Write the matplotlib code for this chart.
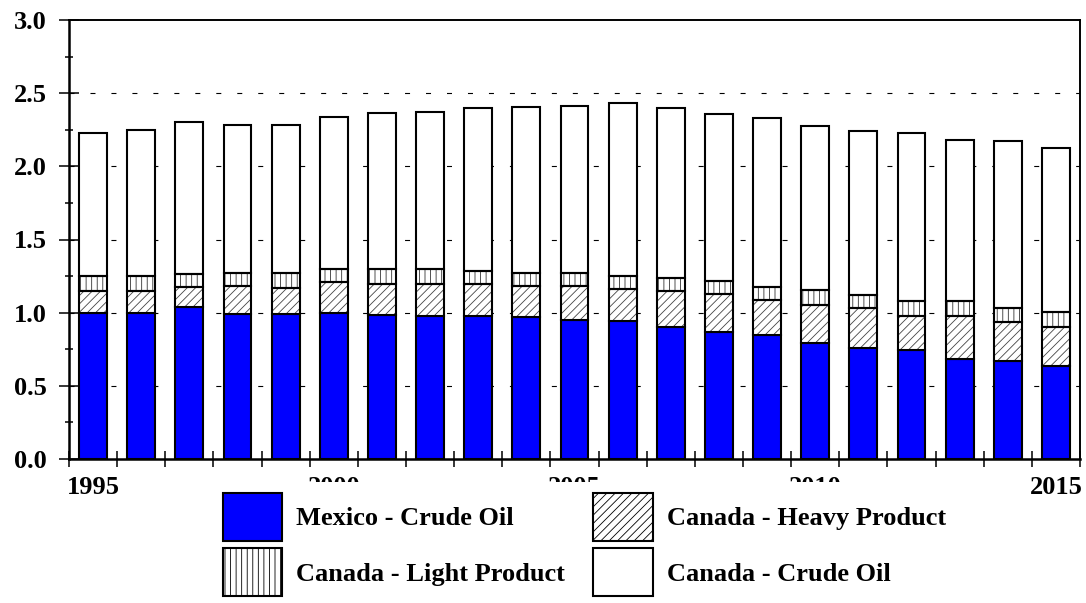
import matplotlib
matplotlib.use("Agg")
import matplotlib.pyplot as plt
from matplotlib.patches import Patch
import numpy as np

years = list(range(1995, 2016))
mexico_crude = [1.00, 1.00, 1.037, 0.989, 0.989, 1.00, 0.986, 0.98, 0.98, 0.97, 0.952,
                0.941, 0.904, 0.866, 0.847, 0.795, 0.756, 0.743, 0.683, 0.670, 0.636]
top_heavy = [1.15, 1.15, 1.173, 1.185, 1.171, 1.21, 1.198, 1.198, 1.198, 1.185, 1.182,
             1.164, 1.15, 1.125, 1.089, 1.052, 1.03, 0.979, 0.979, 0.938, 0.902]
top_light = [1.253, 1.25, 1.264, 1.273, 1.273, 1.30, 1.30, 1.30, 1.285, 1.271, 1.271,
             1.25, 1.235, 1.214, 1.173, 1.155, 1.119, 1.080, 1.082, 1.03, 1.005]
totals = [2.225, 2.25, 2.30, 2.285, 2.285, 2.34, 2.362, 2.374, 2.40, 2.405, 2.41,
          2.43, 2.397, 2.36, 2.333, 2.278, 2.242, 2.228, 2.18, 2.171, 2.123]
canada_heavy = [h - m for h, m in zip(top_heavy, mexico_crude)]
canada_light = [l - h for l, h in zip(top_light, top_heavy)]
canada_crude = [t - l for t, l in zip(totals, top_light)]
x_labels = ["1995", "2000", "2005", "2010", "2015"]
legend_labels = ["Mexico - Crude Oil", "Canada - Heavy Product",
                 "Canada - Light Product", "Canada - Crude Oil"]

plt.rcParams['font.family'] = ['Liberation Serif', 'DejaVu Serif']
plt.rcParams['font.weight'] = 'bold'
plt.rcParams['hatch.linewidth'] = 0.6
plt.rcParams['lines.scale_dashes'] = False

fig = plt.figure(figsize=(10.86, 6.03), dpi=100)
ax = fig.add_axes([69/1086, 1 - 459/603, (1080 - 69)/1086, (459 - 20)/603])

x = np.arange(len(years))
w = 0.58
lw = 1.5
ax.bar(x, mexico_crude, w, color='#0000ff', edgecolor='black', linewidth=lw, zorder=3)
b1 = np.array(mexico_crude)
ax.bar(x, canada_heavy, w, bottom=b1, color='white', edgecolor='#444444', hatch='////',
       linewidth=0, zorder=3)
ax.bar(x, canada_heavy, w, bottom=b1, fill=False, edgecolor='black', linewidth=lw, zorder=4)
b2 = b1 + np.array(canada_heavy)
ax.bar(x, canada_light, w, bottom=b2, color='white', edgecolor='#333333', hatch='|||',
       linewidth=0, zorder=3)
ax.bar(x, canada_light, w, bottom=b2, fill=False, edgecolor='black', linewidth=lw, zorder=4)
b3 = b2 + np.array(canada_light)
ax.bar(x, canada_crude, w, bottom=b3, color='white', edgecolor='black', linewidth=lw, zorder=3)

ax.set_xlim(-0.5, len(years) - 0.5)
ax.set_ylim(0, 3.0)

ax.set_yticks(np.arange(0, 3.01, 0.5))
ax.set_yticklabels([f"{v:.1f}" for v in np.arange(0, 3.01, 0.5)])
ax.set_yticks(np.arange(0.25, 3.0, 0.5), minor=True)
ax.tick_params(axis='y', which='major', direction='inout', length=14, width=1.1,
               labelsize=19, pad=9)
ax.tick_params(axis='y', which='minor', direction='inout', length=6, width=1.1)

label_pos = [years.index(int(s)) for s in x_labels]
ax.set_xticks(label_pos)
ax.set_xticklabels(x_labels)
ax.set_xticks(np.arange(-0.5, len(years), 1.0), minor=True)
ax.tick_params(axis='x', which='major', length=0, labelsize=19, pad=12)
ax.tick_params(axis='x', which='minor', direction='inout', length=12, width=1.1)

for yv in [0.5, 1.0, 1.5, 2.0, 2.5]:
    ax.axhline(yv, color='black', linewidth=0.8, dashes=(3.6, 11.5), zorder=1)

for s in ['left', 'bottom']:
    ax.spines[s].set_linewidth(1.8)
for s in ['top', 'right']:
    ax.spines[s].set_linewidth(1.4)

handles = [
    Patch(facecolor='#0000ff', edgecolor='black', linewidth=1.5),
    Patch(facecolor='white', edgecolor='black', hatch='|||', linewidth=1.5),
    Patch(facecolor='white', edgecolor='black', hatch='////', linewidth=1.5),
    Patch(facecolor='white', edgecolor='black', linewidth=1.5),
]
labels = [legend_labels[0], legend_labels[2], legend_labels[1], legend_labels[3]]
leg = fig.legend(handles, labels, ncol=2, loc='upper left',
                 bbox_to_anchor=(212/1086, 1 - 482/603),
                 prop={'family': 'Liberation Serif', 'weight': 'bold', 'size': 19},
                 frameon=True, fancybox=False, edgecolor='none', facecolor='white',
                 framealpha=1.0, handlelength=2.27, handleheight=2.42,
                 labelspacing=0.3, handletextpad=0.53, columnspacing=1.05,
                 borderpad=0.4, borderaxespad=0)
leg.set_zorder(10)

fig.savefig("out.png", dpi=100)
